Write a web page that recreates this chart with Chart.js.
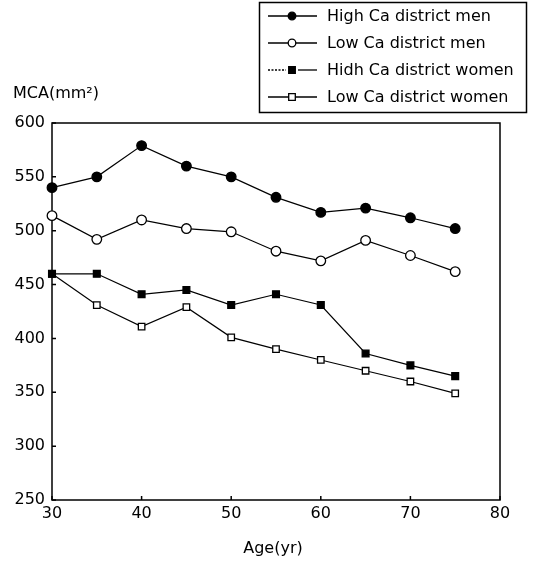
<!DOCTYPE html>
<html>
<head>
<meta charset="utf-8">
<script src="https://cdn.jsdelivr.net/npm/chart.js@4/dist/chart.umd.min.js"></script>
<style>
  html, body { margin: 0; padding: 0; background: #fff; }
  #wrap { width: 551px; height: 572px; }
</style>
</head>
<body>
<div id="wrap"><canvas id="mca" width="551" height="572"></canvas></div>
<script>
// 연령별 MCA 데이터
var ages = [30, 35, 40, 45, 50, 55, 60, 65, 70, 75];
var highCaMen = [540, 550, 579, 560, 550, 531, 517, 521, 512, 502];
var lowCaMen = [514, 492, 510, 502, 499, 481, 472, 491, 477, 462];
var highCaWomen = [460, 460, 441, 445, 431, 441, 431, 386, 375, 365];
var lowCaWomen = [460, 431, 411, 429, 401, 390, 380, 370, 360, 349];
var seriesLabels = ['High Ca district men', 'Low Ca district men', 'Hidh Ca district women', 'Low Ca district women'];
var xTicks = [30, 40, 50, 60, 70, 80];
var yTicks = [250, 300, 350, 400, 450, 500, 550, 600];

var FONT = "'DejaVu Sans', sans-serif";

function pts(arr) {
    return arr.map(function (v, i) { return { x: ages[i], y: v }; });
}

function series(label, arr, style, filled, radius) {
    return {
        label: label,
        data: pts(arr),
        borderColor: '#000',
        borderWidth: 1.2,
        backgroundColor: filled ? '#000' : '#fff',
        pointBackgroundColor: filled ? '#000' : '#fff',
        pointBorderColor: '#000',
        pointBorderWidth: 1.3,
        pointStyle: style,
        pointRadius: radius,
        tension: 0,
        clip: false
    };
}

// 프레임, 안쪽 눈금, 범례, 축 제목
var decorPlugin = {
    id: 'decor',
    beforeDatasetsDraw: function (chart) {
        var ctx = chart.ctx, a = chart.chartArea;
        var x = chart.scales.x, y = chart.scales.y;
        ctx.save();
        ctx.strokeStyle = '#000';
        ctx.lineWidth = 1.5;
        ctx.strokeRect(a.left, a.top, a.right - a.left, a.bottom - a.top);
        ctx.beginPath();
        yTicks.forEach(function (v) {
            var py = y.getPixelForValue(v);
            ctx.moveTo(a.left, py); ctx.lineTo(a.left + 4, py);
        });
        xTicks.forEach(function (v) {
            var px = x.getPixelForValue(v);
            ctx.moveTo(px, a.bottom); ctx.lineTo(px, a.bottom - 4);
        });
        ctx.stroke();
        ctx.restore();
    },
    afterDraw: function (chart) {
        var ctx = chart.ctx;
        ctx.save();
        // 범례 상자
        ctx.strokeStyle = '#000';
        ctx.lineWidth = 1.5;
        ctx.strokeRect(259.5, 2.5, 267, 110);
        ctx.fillStyle = '#000';
        ctx.font = '16px ' + FONT;
        ctx.textBaseline = 'middle';
        ctx.textAlign = 'left';
        var rowY = [16, 43, 70, 97];
        chart.data.datasets.forEach(function (ds, i) {
            var ry = rowY[i];
            ctx.lineWidth = 1.3;
            ctx.beginPath();
            if (i === 2) {
                ctx.setLineDash([2, 1.5]);
                ctx.moveTo(268, ry); ctx.lineTo(286, ry);
                ctx.stroke();
                ctx.setLineDash([]);
                ctx.beginPath();
                ctx.moveTo(298, ry); ctx.lineTo(317, ry);
            } else {
                ctx.moveTo(268, ry); ctx.lineTo(317, ry);
            }
            ctx.stroke();
            var r = ds.pointStyle === 'rect' ? 3.3 : 3.8;
            ctx.beginPath();
            if (ds.pointStyle === 'rect') {
                ctx.rect(292 - r, ry - r, 2 * r, 2 * r);
            } else {
                ctx.arc(292, ry, r, 0, Math.PI * 2);
            }
            ctx.fillStyle = ds.pointBackgroundColor;
            ctx.fill();
            ctx.stroke();
            ctx.fillStyle = '#000';
            ctx.fillText(ds.label, 327, ry + 1);
        });
        // 축 제목
        ctx.font = '16px ' + FONT;
        ctx.textBaseline = 'alphabetic';
        ctx.fillText('MCA(mm²)', 13, 98);
        ctx.textAlign = 'center';
        ctx.fillText('Age(yr)', 273, 553);
        ctx.restore();
    }
};

new Chart(document.getElementById('mca').getContext('2d'), {
    type: 'line',
    data: {
        datasets: [
            series(seriesLabels[0], highCaMen, 'circle', true, 4.8),
            series(seriesLabels[1], lowCaMen, 'circle', false, 4.8),
            series(seriesLabels[2], highCaWomen, 'rect', true, 4.8),
            series(seriesLabels[3], lowCaWomen, 'rect', false, 4.6)
        ]
    },
    options: {
        responsive: false,
        animation: false,
        layout: { padding: { top: 123, right: 51, left: 0, bottom: 0 } },
        plugins: {
            legend: { display: false },
            tooltip: { enabled: false }
        },
        scales: {
            x: {
                type: 'linear',
                min: 30, max: 80,
                afterBuildTicks: function (s) { s.ticks = xTicks.map(function (v) { return { value: v }; }); },
                afterFit: function (s) { s.height = 72; },
                grid: { display: false, drawTicks: false },
                border: { display: false },
                ticks: { color: '#000', padding: 4, font: { family: FONT, size: 16 } }
            },
            y: {
                min: 250, max: 600,
                afterBuildTicks: function (s) { s.ticks = yTicks.map(function (v) { return { value: v }; }); },
                afterFit: function (s) { s.width = 52; },
                grid: { display: false, drawTicks: false },
                border: { display: false },
                ticks: { color: '#000', padding: 7, font: { family: FONT, size: 16 } }
            }
        }
    },
    plugins: [decorPlugin]
});
</script>
</body>
</html>
